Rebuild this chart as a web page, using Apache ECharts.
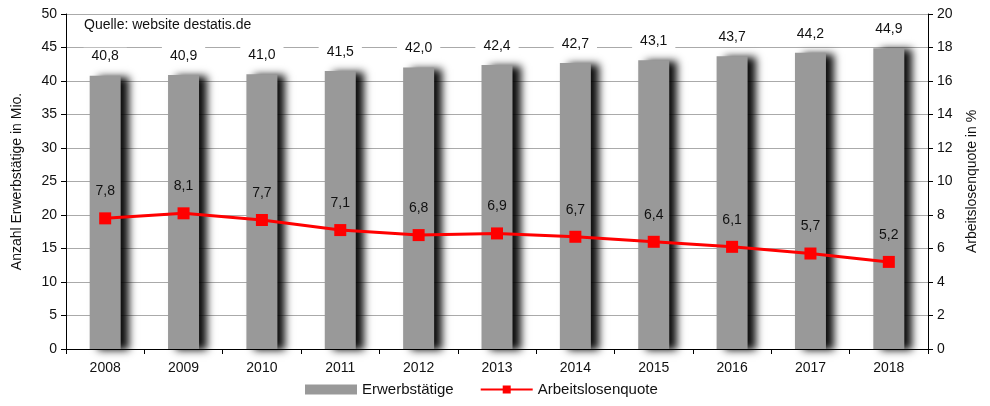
<!DOCTYPE html>
<html><head><meta charset="utf-8">
<script src="https://cdn.jsdelivr.net/npm/echarts@6/dist/echarts.min.js"></script>
<style>html,body{margin:0;padding:0;background:#fff}#c{width:990px;height:406px}</style>
</head><body><div id="c"></div>
<script>
const years = ['2008','2009','2010','2011','2012','2013','2014','2015','2016','2017','2018'];
const erwerbstaetige = [40.8,40.9,41.0,41.5,42.0,42.4,42.7,43.1,43.7,44.2,44.9];
const quote = [7.8,8.1,7.7,7.1,6.8,6.9,6.7,6.4,6.1,5.7,5.2];
const fmt = v => v.toFixed(1).replace('.', ',');
const FONT = 'Liberation Sans';
const chart = echarts.init(document.getElementById('c'));
chart.setOption({
  animation:false,
  textStyle:{fontFamily:FONT},
  grid:{left:66,right:62,top:14,bottom:57},
  graphic:[{type:'text',left:84,top:18,style:{text:'Quelle: website destatis.de',font:'14px Liberation Sans',fill:'#111'}}],
  legend:{bottom:4,left:300,itemGap:26,textStyle:{fontSize:15,color:'#111',fontFamily:FONT},
    data:[{name:'Erwerbstätige',icon:'rect',itemStyle:{shadowBlur:0,shadowOffsetX:0,shadowOffsetY:0}},{name:'Arbeitslosenquote'}],
    itemWidth:52,itemHeight:10},
  xAxis:{type:'category',data:years,
    axisLine:{lineStyle:{color:'#000',width:1}},
    axisTick:{show:true,length:5,lineStyle:{color:'#000'}},
    axisLabel:{fontSize:14,color:'#111',margin:12}},
  yAxis:[
    {type:'value',min:0,max:50,interval:5,name:'Anzahl Erwerbstätige in Mio.',nameLocation:'middle',nameGap:42,
     nameTextStyle:{fontSize:14,color:'#111'},
     axisLine:{show:true,lineStyle:{color:'#000'}},axisTick:{show:true,length:5,lineStyle:{color:'#000'}},
     axisLabel:{fontSize:14,color:'#111',margin:9},
     splitLine:{lineStyle:{color:'#aaa',width:1}}},
    {type:'value',min:0,max:20,interval:2,name:'Arbeitslosenquote in %',nameLocation:'middle',nameGap:37,nameRotate:90,
     nameTextStyle:{fontSize:14,color:'#111'},
     axisLine:{show:true,lineStyle:{color:'#000'}},axisTick:{show:true,length:5,lineStyle:{color:'#000'}},
     axisLabel:{fontSize:14,color:'#111',margin:9},
     splitLine:{show:false}}
  ],
  series:[
    {name:'Erwerbstätige',type:'bar',data:erwerbstaetige,barWidth:31,
     itemStyle:{color:'#999999',shadowColor:'rgba(0,0,0,0.95)',shadowBlur:8,shadowOffsetX:8,shadowOffsetY:1},
     label:{show:true,position:'top',distance:10,formatter:p=>fmt(p.value),fontSize:14,color:'#111',
       backgroundColor:'#fff',padding:[2,8]}},
    {name:'Arbeitslosenquote',type:'line',yAxisIndex:1,data:quote,
     lineStyle:{color:'#ff0000',width:3},itemStyle:{color:'#ff0000'},
     symbol:'rect',symbolSize:12,
     label:{show:true,position:'top',distance:14,formatter:p=>fmt(p.value),fontSize:14,color:'#111'}}
  ]
});
</script></body></html>
